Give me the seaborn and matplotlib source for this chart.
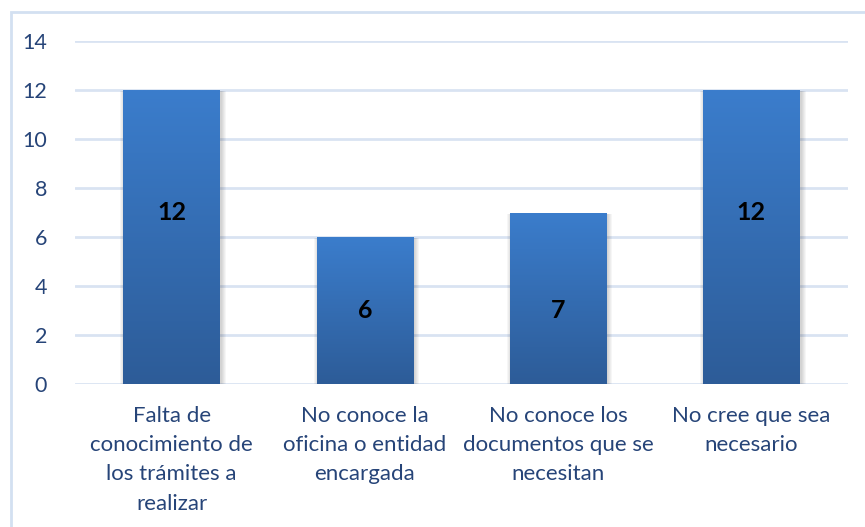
import numpy as np
import pandas as pd
import matplotlib
matplotlib.use("Agg")
import matplotlib.pyplot as plt
import seaborn as sns
from matplotlib.colors import LinearSegmentedColormap
from matplotlib.patches import Rectangle

# Chart data
categories = [
    "Falta de\nconocimiento de\nlos trámites a\nrealizar",
    "No conoce la\noficina o entidad\nencargada",
    "No conoce los\ndocumentos que se\nnecesitan",
    "No cree que sea\nnecesario",
]
values = [12, 6, 7, 12]
label_heights = [7, 3, 3, 7]
y_ticks = [0, 2, 4, 6, 8, 10, 12, 14]

TEXT = "#264478"
GRID = "#D9E3F2"
BORDER = "#D3E0F1"
TOP_BLUE = "#3B7DCC"
BOTTOM_BLUE = "#2D5C98"

sns.set_theme(style="white")
plt.rcParams["font.family"] = ["Lato", "DejaVu Sans"]

W, H = 865, 527
fig = plt.figure(figsize=(W / 100, H / 100), dpi=100)
fig.patch.set_facecolor("white")

# Outer chart frame
fig.patches.append(Rectangle((11 / W, -0.05), 1.2, (H - 12) / H + 0.05,
                             transform=fig.transFigure, fill=False,
                             edgecolor=BORDER, linewidth=2, zorder=0))

ax = fig.add_axes([75 / W, (H - 384) / H, 773 / W, 343 / H])
df = pd.DataFrame({"cat": categories, "val": values})
sns.barplot(data=df, x="cat", y="val", width=0.5, color=TOP_BLUE,
            ax=ax, zorder=3, saturation=1)

ax.set_xlim(-0.5, 3.5)
ax.set_ylim(0, 14)
ax.set_yticks(y_ticks)
ax.set_xlabel("")
ax.set_ylabel("")
ax.yaxis.grid(True, color=GRID, linewidth=2)
ax.set_axisbelow(True)
for s in ax.spines.values():
    s.set_visible(False)
ax.tick_params(axis="y", length=0, pad=20, labelsize=15.5, labelcolor=TEXT)
ax.tick_params(axis="x", length=0, pad=16, labelsize=16, labelcolor=TEXT)
for t in ax.get_xticklabels():
    t.set_linespacing(1.57)

# Gradient fill and soft shadow for each bar
cmap = LinearSegmentedColormap.from_list("barfill", [BOTTOM_BLUE, TOP_BLUE])
grad = np.linspace(0, 1, 256).reshape(-1, 1)
px_x = 4 / 773
px_y = 14 / 343
for patch in list(ax.patches):
    x0, y0 = patch.get_x(), patch.get_y()
    w, h = patch.get_width(), patch.get_height()
    for k in range(1, 6):
        sh = Rectangle((x0 - (k - 2) * px_x, y0 - k * px_y),
                       w + (2 * k - 1) * px_x, h + (k - 1) * px_y,
                       facecolor="black", edgecolor="none",
                       alpha=0.035, zorder=2)
        ax.add_patch(sh)
    im = ax.imshow(grad, extent=(x0, x0 + w, y0, y0 + h), origin="lower",
                   cmap=cmap, aspect="auto", zorder=3.5)
    im.set_clip_path(patch)
    patch.set_facecolor("none")
    patch.set_edgecolor("none")

ax.set_xlim(-0.5, 3.5)
ax.set_ylim(0, 14)

for i, v in enumerate(values):
    ax.text(i, label_heights[i], str(v), ha="center", va="center",
            fontsize=18, fontweight="bold", color="black", zorder=5)

fig.savefig("out.png", dpi=100, facecolor="white")
